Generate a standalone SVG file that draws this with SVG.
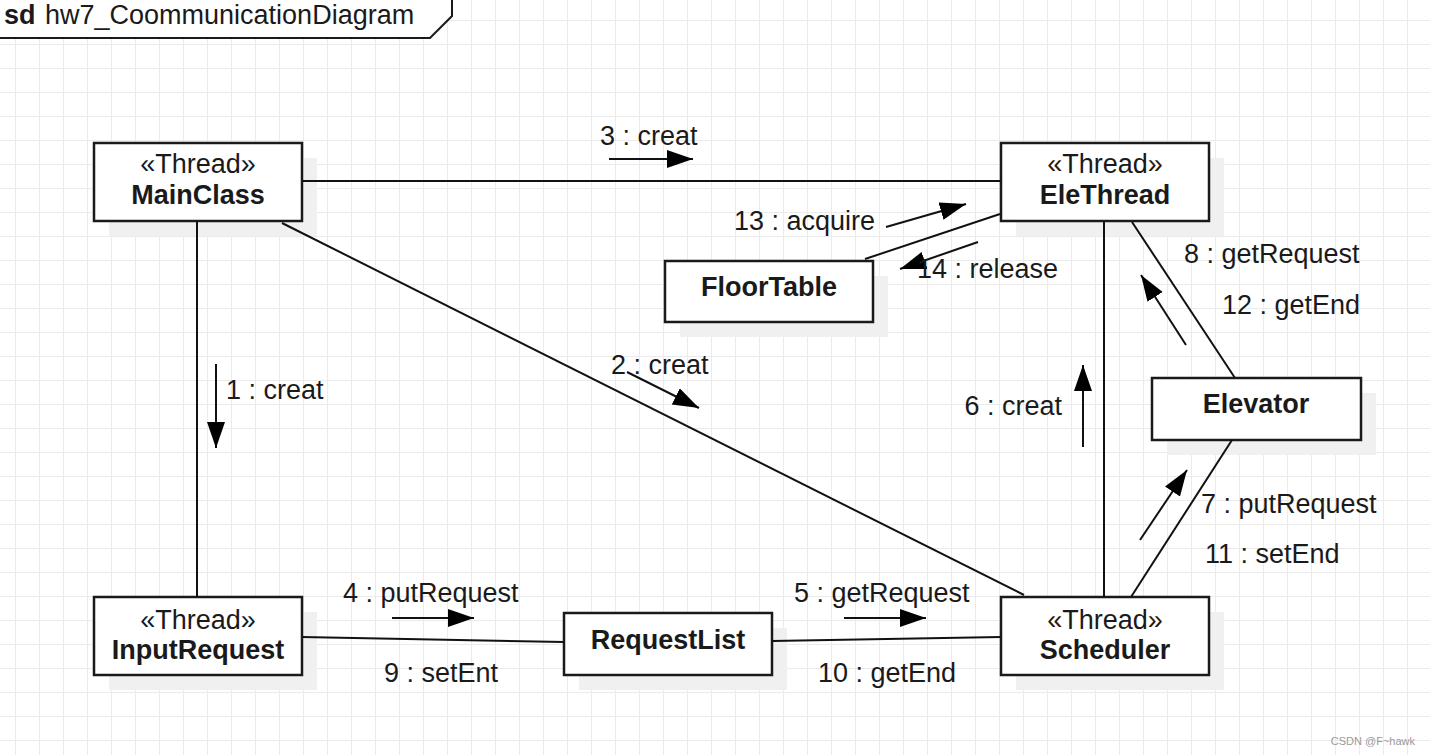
<svg xmlns="http://www.w3.org/2000/svg" width="1430" height="755" viewBox="0 0 1430 755">
<style>
text{font-family:"Liberation Sans",Arial,sans-serif;font-size:27px;fill:#1a1a1a}
.b{font-weight:bold}
.c{text-anchor:middle}
.box{fill:#fff;stroke:#1a1a1a;stroke-width:2.5}
.sh{fill:#f0f0f0}
.ln{stroke:#111;stroke-width:2;fill:none}
.ar{stroke:#111;stroke-width:2;fill:none;marker-end:url(#ah)}
</style>
<defs>
<pattern id="grid" x="15" y="20" width="24" height="24" patternUnits="userSpaceOnUse">
<path d="M0.5 0V24M0 0.5H24" stroke="#ebebeb" stroke-width="1" fill="none"/>
</pattern>
<marker id="ah" markerUnits="userSpaceOnUse" markerWidth="28" markerHeight="20" refX="26" refY="9" orient="auto">
<path d="M0 0L26 9L0 18z" fill="#000"/>
</marker>
</defs>
<rect width="1430" height="755" fill="#fff"/>
<rect width="1430" height="755" fill="url(#grid)"/>
<g id="frame">
<path d="M-2 -2H452V16L430 38H-2z" fill="#fff" stroke="#1a1a1a" stroke-width="2"/>
<text x="4" y="24" class="b">sd</text>
<text x="45" y="24">hw7_CoommunicationDiagram</text>
</g>
<g id="MainClass">
<rect class="sh" x="109" y="158" width="208" height="78"/>
<rect class="box" x="94" y="143" width="208" height="78"/>
<text class="c" x="198" y="173">«Thread»</text>
<text class="c b" x="198" y="204">MainClass</text>
</g>
<g id="EleThread">
<rect class="sh" x="1016" y="158" width="208" height="78"/>
<rect class="box" x="1001" y="143" width="208" height="78"/>
<text class="c" x="1105" y="173">«Thread»</text>
<text class="c b" x="1105" y="204">EleThread</text>
</g>
<g id="FloorTable">
<rect class="sh" x="680" y="276" width="208" height="61"/>
<rect class="box" x="665" y="261" width="208" height="61"/>
<text class="c b" x="769" y="296">FloorTable</text>
</g>
<g id="Elevator">
<rect class="sh" x="1167" y="393" width="209" height="62"/>
<rect class="box" x="1152" y="378" width="209" height="62"/>
<text class="c b" x="1256" y="413">Elevator</text>
</g>
<g id="InputRequest">
<rect class="sh" x="109" y="612" width="208" height="78"/>
<rect class="box" x="94" y="597" width="208" height="78"/>
<text class="c" x="198" y="629">«Thread»</text>
<text class="c b" x="198" y="659">InputRequest</text>
</g>
<g id="RequestList">
<rect class="sh" x="579" y="628" width="208" height="62"/>
<rect class="box" x="564" y="613" width="208" height="62"/>
<text class="c b" x="668" y="649">RequestList</text>
</g>
<g id="Scheduler">
<rect class="sh" x="1016" y="612" width="208" height="78"/>
<rect class="box" x="1001" y="597" width="208" height="78"/>
<text class="c" x="1105" y="629">«Thread»</text>
<text class="c b" x="1105" y="659">Scheduler</text>
</g>
<g id="connectors">
<line class="ln" x1="302" y1="181" x2="1001" y2="181"/>
<line class="ln" x1="197" y1="221" x2="197" y2="597"/>
<line class="ln" x1="282" y1="223" x2="1024" y2="595"/>
<line class="ln" x1="1000" y1="214" x2="865" y2="259"/>
<line class="ln" x1="1104" y1="221" x2="1104" y2="597"/>
<line class="ln" x1="1132" y1="222" x2="1235" y2="378"/>
<line class="ln" x1="1232" y1="440" x2="1131" y2="597"/>
<line class="ln" x1="302" y1="637" x2="564" y2="642"/>
<line class="ln" x1="772" y1="641" x2="1001" y2="637"/>
<line class="ar" x1="609" y1="159" x2="693" y2="159"/>
<line class="ar" x1="886" y1="227" x2="966" y2="204"/>
<line class="ar" x1="978" y1="242" x2="900" y2="269"/>
<line class="ar" x1="1186" y1="345" x2="1141" y2="275"/>
<line class="ar" x1="1083" y1="447" x2="1083" y2="365"/>
<line class="ar" x1="627" y1="372" x2="699" y2="408"/>
<line class="ar" x1="216" y1="364" x2="216" y2="448"/>
<line class="ar" x1="1140" y1="540" x2="1187" y2="470"/>
<line class="ar" x1="392" y1="618" x2="474" y2="618"/>
<line class="ar" x1="844" y1="618" x2="926" y2="618"/>
<text x="600" y="145">3 : creat</text>
<text x="875" y="230" text-anchor="end">13 : acquire</text>
<text x="917" y="278">14 : release</text>
<text x="1184" y="263">8 : getRequest</text>
<text x="1222" y="314">12 : getEnd</text>
<text x="1062" y="415" text-anchor="end">6 : creat</text>
<text x="611" y="374">2 : creat</text>
<text x="226" y="399">1 : creat</text>
<text x="1201" y="513">7 : putRequest</text>
<text x="1205" y="563">11 : setEnd</text>
<text x="343" y="602">4 : putRequest</text>
<text x="384" y="682">9 : setEnt</text>
<text x="794" y="602">5 : getRequest</text>
<text x="818" y="682">10 : getEnd</text>
</g>
<text x="1415" y="745" text-anchor="end" style="font-size:11px;fill:#999">CSDN @F~hawk</text>
</svg>
